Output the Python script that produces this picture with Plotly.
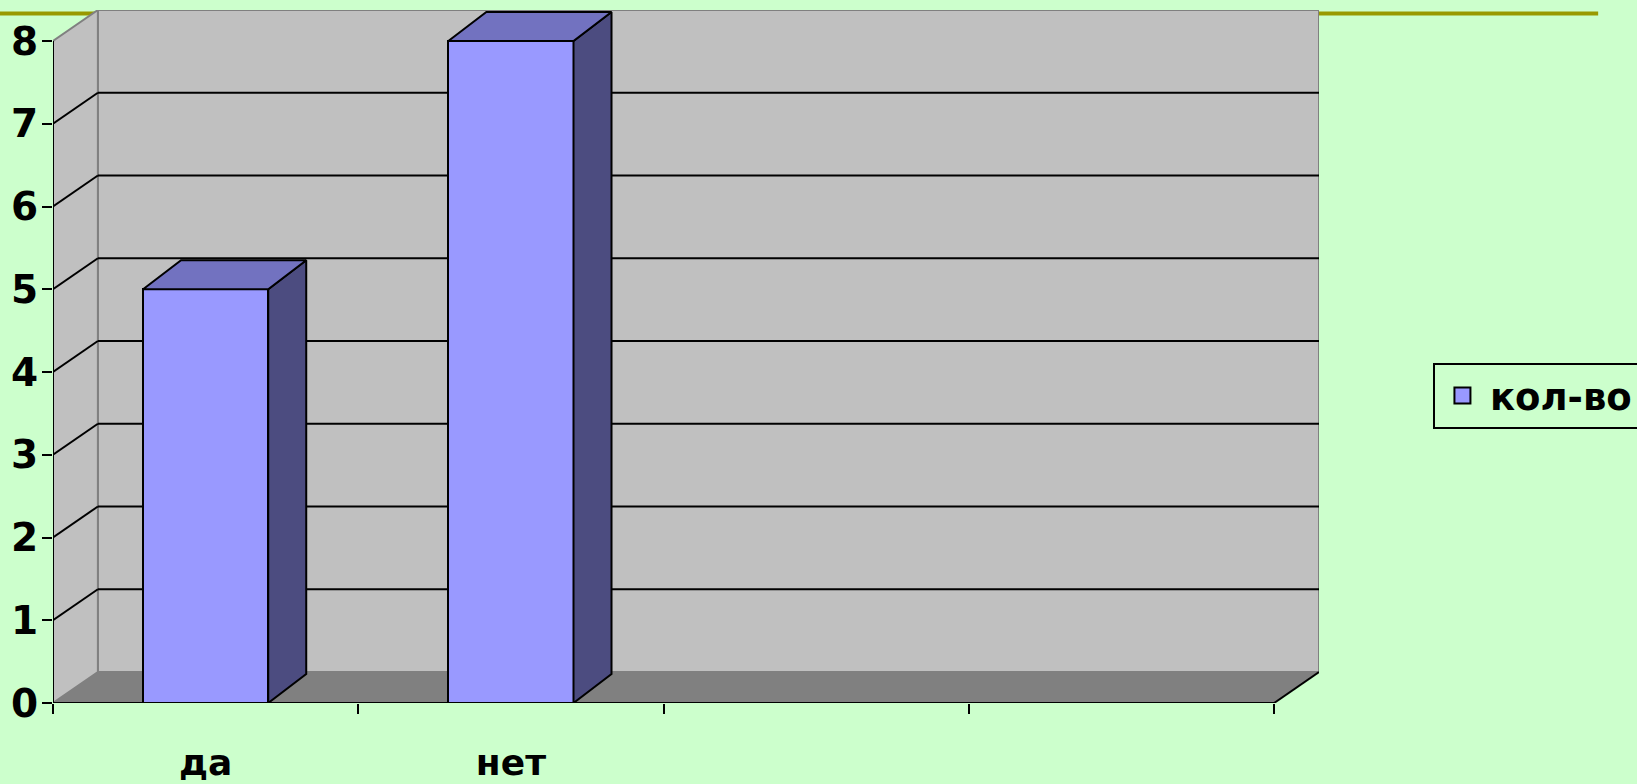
import plotly.graph_objects as go

# ---------------- data ----------------
CATEGORIES = ["да", "нет", "", ""]
VALUES = [5, 8, None, None]
SERIES_NAME = "кол-во"
Y_TICKS = [0, 1, 2, 3, 4, 5, 6, 7, 8]

# ---------------- style / geometry (pseudo-3D) ----------------
FONT = "DejaVu Sans"
BG = "#CCFFCC"
WALL = "#C0C0C0"
FLOOR = "#808080"
EDGE = "#808080"
FRONT = "#9999FF"
TOP = "#7272C0"
SIDE = "#4C4C80"
BAR_W = 0.41
DXB, DYB = 0.1245, 0.350   # bar depth offset (data units)
DXW, DYW = 0.147, 0.375    # wall depth offset (data units)

N = len(CATEGORIES)
XL, XR = -0.5, N - 0.5
YMAX = Y_TICKS[-1]
centers = list(range(N))

fig = go.Figure()

# front faces of the columns
fig.add_trace(go.Bar(
    x=centers, y=VALUES, width=BAR_W, name=SERIES_NAME,
    marker=dict(color=FRONT, line=dict(color="black", width=2)),
    showlegend=False, hoverinfo="skip"))

# side and top faces
sx, sy, tx, ty = [], [], [], []
for c, v in zip(centers, VALUES):
    if v is None:
        continue
    l, r = c - BAR_W / 2, c + BAR_W / 2
    sx += [r, r + DXB, r + DXB, r, r, None]
    sy += [0, DYB, v + DYB, v, 0, None]
    tx += [l, r, r + DXB, l + DXB, l, None]
    ty += [v, v, v + DYB, v + DYB, v, None]
fig.add_trace(go.Scatter(x=sx, y=sy, mode="lines", fill="toself", fillcolor=SIDE,
                         line=dict(color="black", width=2), showlegend=False, hoverinfo="skip"))
fig.add_trace(go.Scatter(x=tx, y=ty, mode="lines", fill="toself", fillcolor=TOP,
                         line=dict(color="black", width=2), showlegend=False, hoverinfo="skip"))

# legend entry
fig.add_trace(go.Scatter(x=[None], y=[None], mode="markers", name=SERIES_NAME,
                         marker=dict(symbol="square", size=16, color=FRONT,
                                     line=dict(color="black", width=2))))

# ---------------- background structure (walls, floor, grid) ----------------
def path(pts):
    return "M " + " L ".join(f"{x},{y}" for x, y in pts) + " Z"

shapes = []
# slide decoration line (behind the chart)
shapes.append(dict(type="line", xref="paper", yref="paper", x0=-0.042, x1=1.2205,
                   y0=0.995, y1=0.995, line=dict(color="#999900", width=4), layer="below"))
# back wall
shapes.append(dict(type="path", xref="x", yref="y", layer="below",
                   path=path([(XL + DXW, DYW), (XR + DXW, DYW), (XR + DXW, YMAX + DYW), (XL + DXW, YMAX + DYW)]),
                   fillcolor=WALL, line=dict(color=EDGE, width=2)))
# left side wall
shapes.append(dict(type="path", xref="x", yref="y", layer="below",
                   path=path([(XL, 0), (XL + DXW, DYW), (XL + DXW, YMAX + DYW), (XL, YMAX)]),
                   fillcolor=WALL, line=dict(color=EDGE, width=2)))
# floor
shapes.append(dict(type="path", xref="x", yref="y", layer="below",
                   path=path([(XL, 0), (XR, 0), (XR + DXW, DYW), (XL + DXW, DYW)]),
                   fillcolor=FLOOR, line=dict(width=0)))
# gridlines on back wall and side wall
for v in Y_TICKS[1:-1]:
    shapes.append(dict(type="line", xref="x", yref="y", layer="below",
                       x0=XL + DXW, x1=XR + DXW, y0=v + DYW, y1=v + DYW,
                       line=dict(color="black", width=2)))
    shapes.append(dict(type="line", xref="x", yref="y", layer="below",
                       x0=XL, x1=XL + DXW, y0=v, y1=v + DYW,
                       line=dict(color="black", width=2)))
# floor right edge
shapes.append(dict(type="line", xref="x", yref="y", layer="below",
                   x0=XR, x1=XR + DXW, y0=0, y1=DYW, line=dict(color="black", width=2)))
# front axis lines
shapes.append(dict(type="line", xref="x", yref="y", layer="below",
                   x0=XL, x1=XR, y0=0, y1=0, line=dict(color="black", width=2)))
shapes.append(dict(type="line", xref="x", yref="y", layer="below",
                   x0=XL, x1=XL, y0=0, y1=YMAX, line=dict(color="black", width=2)))

fig.update_layout(
    width=1637, height=784,
    margin=dict(l=53, r=318, t=10, b=81, autoexpand=False),
    paper_bgcolor=BG, plot_bgcolor=BG,
    shapes=shapes,
    showlegend=True,
    legend=dict(x=1.09, y=0.4906, xanchor="left", yanchor="top", itemwidth=45,
                bgcolor="rgba(0,0,0,0)", bordercolor="black", borderwidth=2,
                font=dict(family=FONT, size=37, color="black", weight="bold")),
    xaxis=dict(range=[XL, XR + DXW], showgrid=False, zeroline=False, showline=False,
               tickmode="array", tickvals=centers, ticktext=CATEGORIES,
               ticks="outside", ticklen=28, tickcolor="rgba(0,0,0,0)",
               tickfont=dict(family=FONT, size=36, color="black", weight="bold"),
               minor=dict(tickmode="array", tickvals=[c - 0.5 for c in centers] + [XR],
                          ticks="outside", ticklen=10, tickwidth=2, tickcolor="black"),
               fixedrange=True),
    yaxis=dict(range=[0, YMAX + DYW], showgrid=False, zeroline=False, showline=False,
               tickmode="array", tickvals=Y_TICKS, ticktext=[str(t) for t in Y_TICKS],
               ticks="outside", ticklen=10, tickwidth=2, tickcolor="black",
               ticklabelstandoff=-4,
               tickfont=dict(family=FONT, size=39, color="black", weight="bold"),
               fixedrange=True),
    bargap=0,
)

fig.write_html(
    "out.html",
    config={"displayModeBar": False},
    post_script="document.body.style.margin='0';document.body.style.overflow='hidden';",
)
